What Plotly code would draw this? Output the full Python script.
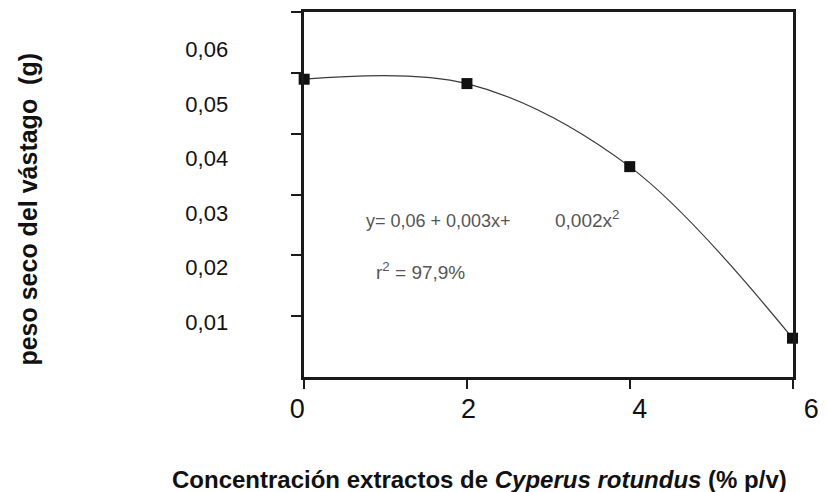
import plotly.graph_objects as go

# Shoot dry weight vs. extract concentration
conc = [0, 2, 4, 6]                       # % p/v
peso = [0.0545, 0.0537, 0.0385, 0.0071]   # g
x_ticks = [0, 2, 4, 6]
y_ticks = [0.01, 0.02, 0.03, 0.04, 0.05, 0.06]

W, H = 827, 492
# frame box (pixels)
L, R, T, B = 302, 800, 12, 377


def px(v):
    return v / W


def py(v):
    return 1 - v / H


FONT = "Arial, Liberation Sans, sans-serif"
FRAME = "#1a1a1a"

fig = go.Figure()
# empty carrier so the frame subplot exists
fig.add_trace(go.Scatter(x=[None], y=[None], xaxis="x", yaxis="y",
                         mode="markers", showlegend=False, hoverinfo="skip"))
fig.add_trace(go.Scatter(
    x=conc, y=peso, xaxis="x", yaxis="y2",
    mode="lines+markers",
    line=dict(shape="spline", color="#3a3a3a", width=1.2),
    marker=dict(symbol="square", size=11, color="#111111"),
    cliponaxis=False, showlegend=False,
))
# carrier for the concentration label axis
fig.add_trace(go.Scatter(x=[None], y=[None], xaxis="x2", yaxis="y3",
                         mode="markers", showlegend=False, hoverinfo="skip"))

fig.update_layout(
    width=W, height=H,
    margin=dict(l=0, r=0, t=0, b=0),
    paper_bgcolor="white", plot_bgcolor="rgba(0,0,0,0)",
    separators=",.",
    showlegend=False,
    # frame axes: box with tick marks
    xaxis=dict(
        domain=[px(L), px(R)], range=[0, 6], anchor="y",
        showline=True, mirror=True, linecolor=FRAME, linewidth=2.5,
        ticks="outside", ticklen=9, tickwidth=2, tickcolor=FRAME,
        tickvals=x_ticks, showticklabels=False,
        showgrid=False, zeroline=False,
    ),
    yaxis=dict(
        domain=[py(B), py(T)], range=[0, 0.06], anchor="x",
        showline=True, mirror=True, linecolor=FRAME, linewidth=2.5,
        ticks="outside", ticklen=10, tickwidth=2, tickcolor=FRAME,
        tickvals=y_ticks, showticklabels=False,
        showgrid=False, zeroline=False,
    ),
    # labelled value axis
    yaxis2=dict(
        overlaying="y", anchor="x", side="left",
        range=[0, 0.0668], tickvals=y_ticks, tickformat=".2f",
        ticks="", showline=False, showgrid=False, zeroline=False,
        ticklabelstandoff=75,
        tickfont=dict(family=FONT, size=22, color="#111111"),
    ),
    # labelled concentration axis
    xaxis2=dict(
        domain=[px(295), px(819)], range=[0, 6], anchor="y3", side="bottom",
        tickvals=x_ticks, ticks="", showline=False,
        showgrid=False, zeroline=False, ticklabelstandoff=13,
        ticklabeloverflow="allow",
        tickfont=dict(family=FONT, size=27, color="#111111"),
    ),
    yaxis3=dict(
        domain=[py(B), py(T)], range=[0, 1], anchor="x2", visible=False,
    ),
    annotations=[
        dict(text="y= 0,06 + 0,003x+", xref="paper", yref="paper",
             x=px(363), y=py(221), xanchor="left", yanchor="middle",
             showarrow=False, font=dict(family=FONT, size=18, color="#555555")),
        dict(text="0,002x<sup>2</sup>", xref="paper", yref="paper",
             x=px(556), y=py(219), xanchor="left", yanchor="middle",
             showarrow=False, font=dict(family=FONT, size=19, color="#555555")),
        dict(text="r<sup>2</sup> = 97,9%", xref="paper", yref="paper",
             x=px(373), y=py(271), xanchor="left", yanchor="middle",
             showarrow=False, font=dict(family=FONT, size=19, color="#555555")),
        dict(text="<b>peso seco del vástago&nbsp; (g)</b>", xref="paper", yref="paper",
             x=px(20), y=py(209), xanchor="center", yanchor="middle", textangle=-90,
             showarrow=False, font=dict(family=FONT, size=25, color="#111111")),
        dict(text="<b>Concentración extractos de <i>Cyperus rotundus</i> (% p/v)</b>",
             xref="paper", yref="paper",
             x=px(481), y=py(479), xanchor="center", yanchor="middle",
             showarrow=False, font=dict(family=FONT, size=24, color="#111111")),
    ],
)

fig.write_html("out.html")
